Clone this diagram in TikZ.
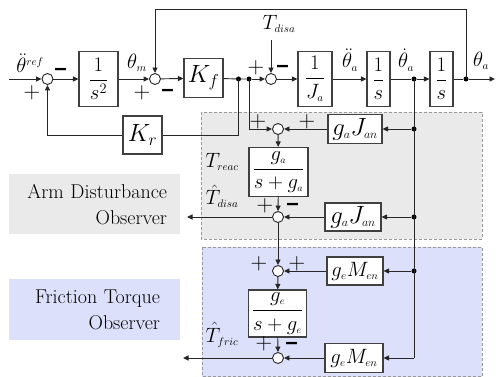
\documentclass[tikz,border=0pt]{standalone}
\usepackage{amsmath}
\usetikzlibrary{arrows.meta}
\newcommand\sbx[1]{_{\scriptscriptstyle #1}}
\newcommand\mns{\smash{\scalebox{0.85}[3]{\raisebox{-0.27em}{\textbf{--}}}}}
\definecolor{graybg}{RGB}{234,234,234}
\definecolor{bluebg}{RGB}{221,224,251}
\begin{document}
\begin{tikzpicture}[x=1pt,y=-1pt,
  ln/.style={line width=0.9pt, draw=black!85},
  arr/.style={ln, -{Triangle[length=5.5pt,width=5pt]}},
  blk/.style={draw=black!75, line width=1.1pt, fill=white, inner sep=0pt, font=\fontsize{22}{24}\selectfont},
  sumc/.style={circle, draw=black!85, line width=0.9pt, fill=white, minimum size=11pt, inner sep=0pt},
  jdot/.style={circle, fill=black, minimum size=5pt, inner sep=0pt},
  sgn/.style={font=\fontsize{23}{23}\selectfont, inner sep=0pt},
  lbl/.style={font=\fontsize{22}{24}\selectfont, inner sep=0pt},
  obsbox/.style={minimum width=171pt, inner sep=0pt},
  obstxt/.style={font=\fontsize{20}{26}\selectfont, align=right, inner sep=0pt}
]
\useasboundingbox (0,0) rectangle (496,377);
% observer regions
\path[fill=graybg, draw=black!40, densely dashed, line width=0.5pt] (201,112) rectangle (482,239);
\path[fill=bluebg, draw=black!40, densely dashed, line width=0.5pt] (202,247) rectangle (482,376.5);
\node[obsbox, fill=graybg, minimum height=60pt] (abox) at (94.5,204) {};
\node[obstxt, text width=152pt] (atxt) at (91,205) {Arm Disturbance\\Observer};
\node[obsbox, fill=bluebg, minimum height=61pt] (fbox) at (94.5,309.5) {};
\node[obstxt, text width=140pt] (ftxt) at (90,310) {Friction Torque\\Observer};

% forward path
\coordinate (in) at (9,79);
\node[sumc] (s1) at (47.5,79) {};
\node[blk, minimum width=39pt, minimum height=55pt] (b1) at (98.5,79) {$\dfrac{1}{s^{2}}$};
\node[sumc] (s2) at (155,79) {};
\node[blk, minimum width=39pt, minimum height=39pt, font=\fontsize{32}{34}\selectfont] (kf) at (203.5,78) {$K\sbx{f}$};
\node[jdot] (d1) at (238.5,79) {};
\node[jdot] (d2) at (249,79) {};
\node[sumc] (s3) at (271,79) {};
\coordinate (tdtop) at (271,40);
\node[blk, minimum width=34pt, minimum height=55pt] (ja) at (315,79) {$\dfrac{1}{J\sbx{a}}$};
\node[blk, minimum width=23pt, minimum height=55pt] (i1) at (378.5,79) {$\dfrac{1}{s}$};
\node[jdot] (d3) at (414,79) {};
\node[blk, minimum width=23pt, minimum height=55pt] (i2) at (441.5,79) {$\dfrac{1}{s}$};
\node[jdot] (d4) at (466,79) {};
\coordinate (out) at (495,79);
\coordinate (tq) at (466,9);
\coordinate (tp) at (155,9);
\node[blk, minimum width=39pt, minimum height=38pt, font=\fontsize{32}{34}\selectfont] (kr) at (142.5,135) {$K\sbx{r}$};

% arm disturbance observer
\node[sumc] (s4) at (278,129) {};
\node[blk, minimum width=54pt, minimum height=29pt, font=\fontsize{23}{25}\selectfont] (ga1) at (355,129) {$g\sbx{a}J\sbx{an}$};
\node[blk, minimum width=59pt, minimum height=49pt, font=\fontsize{20}{22}\selectfont] (f1) at (278.5,172) {$\dfrac{g\sbx{a}}{s+g\sbx{a}}$};
\node[sumc] (s5) at (278,217) {};
\node[blk, minimum width=56pt, minimum height=28pt, font=\fontsize{23}{25}\selectfont] (ga2) at (353,217) {$g\sbx{a}J\sbx{an}$};
\node[jdot] (d5) at (414,129) {};
\node[jdot] (d6) at (414,217) {};
\coordinate (o1) at (187,217);

% friction torque observer
\node[sumc] (s6) at (278,271) {};
\node[blk, minimum width=56pt, minimum height=28pt, font=\fontsize{22}{24}\selectfont] (ge1) at (355,271) {$g\sbx{e}M\sbx{en}$};
\node[blk, minimum width=58pt, minimum height=47pt, font=\fontsize{20}{22}\selectfont] (f2) at (277.5,313.5) {$\dfrac{g\sbx{e}}{s+g\sbx{e}}$};
\node[sumc] (s7) at (278,358) {};
\node[blk, minimum width=58pt, minimum height=29pt, font=\fontsize{22}{24}\selectfont] (ge2) at (354,358) {$g\sbx{e}M\sbx{en}$};
\node[jdot] (d7) at (414,271) {};
\coordinate (d8) at (414,358);
\coordinate (o2) at (183,358);

% connectors
\draw[arr] (in) -- (s1);
\draw[arr] (s1) -- (b1);
\draw[arr] (b1) -- (s2);
\draw[arr] (s2) -- (kf);
\draw[ln] (kf) -- (d1) -- (d2);
\draw[arr] (d2) -- (s3);
\draw[arr] (tdtop) -- (s3);
\draw[arr] (s3) -- (ja);
\draw[arr] (ja) -- (i1);
\draw[ln] (i1) -- (d3);
\draw[arr] (d3) -- (i2);
\draw[ln] (i2) -- (d4);
\draw[arr] (d4) -- (out);
\draw[arr] (d4.center) -- (tq) -- (tp) -- (s2);
\draw[ln] (d1.center) |- (kr);
\draw[arr] (kr.west) -| (s1);
\draw[arr] (d2.center) |- (s4);
\draw[ln] (d3.center) -- (d8);
\draw[arr] (d5) -- (ga1);
\draw[arr] (ga1) -- (s4);
\draw[arr] (s4) -- (f1);
\draw[arr] (f1) -- (s5);
\draw[arr] (d6) -- (ga2);
\draw[arr] (ga2) -- (s5);
\draw[arr] (s5) -- (o1);
\draw[arr] (s5) -- (s6);
\draw[arr] (d7) -- (ge1);
\draw[arr] (ge1) -- (s6);
\draw[arr] (s6) -- (f2);
\draw[arr] (f2) -- (s7);
\draw[arr] (d8) -- (ge2);
\draw[arr] (ge2) -- (s7);
\draw[arr] (s7) -- (o2);

% signal labels
\node[lbl] (lref) at (30,63) {$\ddot{\theta}^{\scriptscriptstyle ref}$};
\node[lbl] (lthm) at (137,63) {$\theta\sbx{m}$};
\node[lbl] (ltd) at (279,24) {$T\sbx{disa}$};
\node[lbl] (lacc) at (350,60) {$\ddot{\theta}\sbx{a}$};
\node[lbl] (lvel) at (406,60) {$\dot{\theta}\sbx{a}$};
\node[lbl] (lpos) at (481,61) {$\theta\sbx{a}$};
\node[lbl] (ltr) at (222,162) {$T\sbx{reac}$};
\node[lbl] (lth) at (222,196) {$\hat{T}\sbx{disa}$};
\node[lbl] (ltf) at (222,335) {$\hat{T}\sbx{fric}$};

% signs
\node[sgn] (g1) at (61,70) {\mns};
\node[sgn] (g2) at (32,93) {+};
\node[sgn] (g3) at (142,93) {+};
\node[sgn] (g4) at (168,91) {\mns};
\node[sgn] (g5) at (256,68) {+};
\node[sgn] (g6) at (283,67) {\mns};
\node[sgn] (g7) at (258,122) {+};
\node[sgn] (g8) at (307,122) {+};
\node[sgn] (g9) at (265,206) {+};
\node[sgn] (g10) at (293,205) {\mns};
\node[sgn] (g11) at (259,264) {+};
\node[sgn] (g12) at (297,264) {+};
\node[sgn] (g13) at (264,344) {+};
\node[sgn] (g14) at (292,344) {\mns};
\end{tikzpicture}
\end{document}
